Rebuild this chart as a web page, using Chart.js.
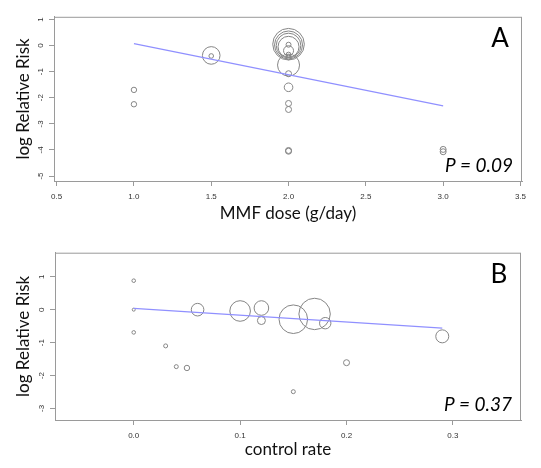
<!DOCTYPE html>
<html>
<head>
<meta charset="utf-8">
<script src="https://cdn.jsdelivr.net/npm/chart.js@4.4.1/dist/chart.umd.min.js"></script>
<style>
    html, body { margin: 0; padding: 0; background: #fff; }
    #wrapA { position: absolute; left: 0; top: 0; width: 541px; height: 236px; }
    #wrapB { position: absolute; left: 0; top: 236px; width: 541px; height: 232px; }
</style>
</head>
<body>
<div id="wrapA"><canvas id="chartA" width="541" height="236"></canvas></div>
<div id="wrapB"><canvas id="chartB" width="541" height="232"></canvas></div>
<script>
// Panel A - MMF dose vs log relative risk
const doseX = [1.0, 1.0, 1.5, 1.5, 2.0, 2.0, 2.0, 2.0, 2.0, 2.0, 2.0, 2.0, 2.0, 2.0, 2.0, 2.0, 2.0, 2.0, 2.0, 3.0, 3.0];
const doseY = [-1.70, -2.25, -0.40, -0.38, 0.05, 0.02, 0.00, -0.05, 0.03, -0.20, -0.35, -0.45, -0.75, -1.08, -1.60, -2.22, -2.45, -4.02, -4.05, -3.98, -4.07];
const doseWeight = [2.7, 2.7, 2.3, 8.8, 15.8, 14, 12.3, 10.5, 2.5, 5, 2.5, 2.5, 11, 3, 4.3, 3, 3, 3, 3, 3, 3];
const doseFitX = [1.0, 3.0];
const doseFitY = [0.07, -2.31];
const doseTicksX = [0.5, 1.0, 1.5, 2.0, 2.5, 3.0, 3.5];
const doseTicksY = [1, 0, -1, -2, -3, -4, -5];

// Panel B - control rate vs log relative risk
const rateX = [0.0, 0.0, 0.0, 0.03, 0.04, 0.05, 0.06, 0.10, 0.12, 0.12, 0.15, 0.15, 0.17, 0.18, 0.20, 0.29];
const rateY = [0.88, 0.0, -0.69, -1.10, -1.73, -1.77, 0.0, -0.04, 0.05, -0.33, -0.29, -2.49, -0.13, -0.41, -1.61, -0.81];
const rateWeight = [1.8, 1.5, 1.8, 2, 2, 2.7, 6.3, 10.3, 7.3, 4, 14.3, 2, 15.7, 5.7, 3, 6.5];
const rateFitX = [0.0, 0.29];
const rateFitY = [0.04, -0.56];
const rateTicksX = [0.0, 0.1, 0.2, 0.3];
const rateTicksY = [1, 0, -1, -2, -3];

const axisGray = "#9a9a9a";
const tickFont = { family: "'Liberation Sans', Arial, sans-serif", size: 8 };

// Box, rotated y tick labels, panel letter and P value
const panelDecor = {
    id: "panelDecor",
    afterDraw(chart, args, opts) {
        const { ctx, chartArea: a, scales } = chart;
        ctx.save();
        ctx.strokeStyle = axisGray;
        ctx.lineWidth = 1;
        ctx.strokeRect(a.left + 0.5, a.top + 0.5, a.right - a.left - 1, a.bottom - a.top);

        ctx.fillStyle = "#333";
        ctx.font = "8px 'Liberation Sans', Arial, sans-serif";
        ctx.textAlign = "center";
        ctx.textBaseline = "middle";
        scales.y.ticks.forEach((t) => {
            const py = scales.y.getPixelForValue(t.value);
            ctx.save();
            ctx.translate(a.left - 13, py);
            ctx.rotate(-Math.PI / 2);
            ctx.fillText(String(t.value), 0, 0);
            ctx.restore();
        });

        ctx.fillStyle = "#000";
        ctx.font = "26px Lato";
        ctx.fillText(opts.letter, a.right - 22, a.top + 22);

        ctx.font = "italic 19px Lato";
        ctx.textAlign = "right";
        ctx.textBaseline = "alphabetic";
        ctx.fillText(opts.pText, a.right - 9, a.bottom - 9);
        ctx.restore();
    }
};

function makeChart(canvasId, cfg) {
    const canvas = document.getElementById(canvasId);
    const H = canvas.height;
    const points = cfg.xs.map((x, i) => ({ x: x, y: cfg.ys[i], r: cfg.rs[i] }));
    const fit = cfg.fitX.map((x, i) => ({ x: x, y: cfg.fitY[i] }));

    return new Chart(canvas.getContext("2d"), {
        type: "bubble",
        data: {
            datasets: [
                {
                    type: "line",
                    data: fit,
                    borderColor: "#9090ff",
                    borderWidth: 1.2,
                    pointRadius: 0,
                    fill: false
                },
                {
                    data: points,
                    backgroundColor: "rgba(0,0,0,0)",
                    borderColor: "#858585",
                    borderWidth: 1
                }
            ]
        },
        options: {
            responsive: false,
            animation: false,
            events: [],
            layout: { padding: { left: 0, top: cfg.top, right: 541 - cfg.right, bottom: 0 } },
            plugins: {
                legend: { display: false },
                tooltip: { enabled: false },
                panelDecor: { letter: cfg.letter, pText: cfg.pText }
            },
            scales: {
                x: {
                    type: "linear",
                    min: cfg.xMin,
                    max: cfg.xMax,
                    afterBuildTicks: (s) => { s.ticks = cfg.ticksX.map((v) => ({ value: v })); },
                    afterFit: (s) => { s.height = H - cfg.bottom; },
                    ticks: {
                        font: tickFont,
                        color: "#333",
                        padding: 6,
                        maxRotation: 0,
                        autoSkip: false,
                        callback: (v) => Number(v).toFixed(1)
                    },
                    grid: { drawOnChartArea: false, drawTicks: true, tickLength: 5, color: axisGray },
                    border: { display: true, color: axisGray },
                    title: {
                        display: true,
                        text: cfg.xTitle,
                        color: "#111",
                        font: { family: "Lato", size: 17 },
                        padding: { top: 0, bottom: cfg.xTitlePad }
                    }
                },
                y: {
                    type: "linear",
                    min: cfg.yMin,
                    max: cfg.yMax,
                    afterBuildTicks: (s) => { s.ticks = cfg.ticksY.map((v) => ({ value: v })); },
                    afterFit: (s) => { s.width = cfg.left; },
                    ticks: { display: false },
                    grid: { drawOnChartArea: false, drawTicks: true, tickLength: 5, color: axisGray },
                    border: { display: true, color: axisGray },
                    title: {
                        display: true,
                        text: "log Relative Risk",
                        color: "#111",
                        font: { family: "Lato", size: 17 },
                        padding: { top: 13, bottom: 0 }
                    }
                }
            }
        },
        plugins: [panelDecor]
    });
}

makeChart("chartA", {
    xs: doseX, ys: doseY, rs: doseWeight,
    fitX: doseFitX, fitY: doseFitY,
    ticksX: doseTicksX, ticksY: doseTicksY,
    xMin: 0.483, xMax: 3.51, yMin: -5.19, yMax: 1.1,
    left: 54, right: 522, top: 12, bottom: 181,
    xTitle: "MMF dose (g/day)", xTitlePad: 12,
    letter: "A", pText: "P = 0.09"
});

makeChart("chartB", {
    xs: rateX, ys: rateY, rs: rateWeight,
    fitX: rateFitX, fitY: rateFitY,
    ticksX: rateTicksX, ticksY: rateTicksY,
    xMin: -0.074, xMax: 0.364, yMin: -3.35, yMax: 1.73,
    left: 55, right: 521, top: 16, bottom: 184,
    xTitle: "control rate", xTitlePad: 8,
    letter: "B", pText: "P = 0.37"
});
</script>
</body>
</html>
